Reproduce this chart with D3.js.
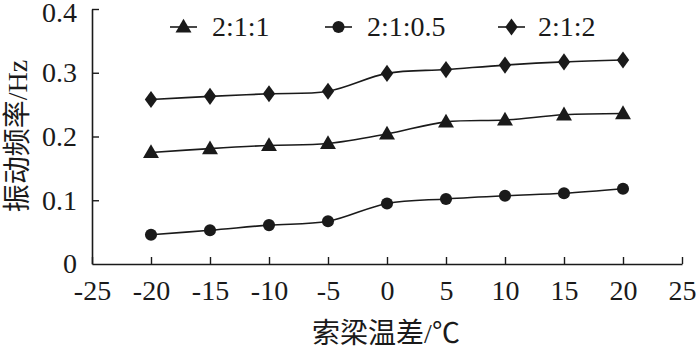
<!DOCTYPE html>
<html>
<head>
<meta charset="utf-8">
<script src="https://cdn.jsdelivr.net/npm/d3@7"></script>
<style>
  html, body { margin: 0; padding: 0; background: #fff; }
  svg { display: block; }
</style>
</head>
<body>
<svg id="chart" width="700" height="350"></svg>
<script>
// ---- data ----
const temps = [-20, -15, -10, -5, 0, 5, 10, 15, 20];
const series211 = [0.175, 0.181, 0.186, 0.189, 0.204, 0.223, 0.226, 0.234, 0.236];
const series2105 = [0.046, 0.053, 0.061, 0.067, 0.095, 0.102, 0.107, 0.111, 0.118];
const series212 = [0.258, 0.263, 0.267, 0.271, 0.299, 0.305, 0.312, 0.317, 0.320];
const seriesNames = ["2:1:1", "2:1:0.5", "2:1:2"];
const xTicks = [-25, -20, -15, -10, -5, 0, 5, 10, 15, 20, 25];
const yTicks = [0, 0.1, 0.2, 0.3, 0.4];
const xTitle = "索梁温差/℃";
const yTitle = "振动频率/Hz";

const latin = "'Liberation Serif', 'Times New Roman', serif";
const cjk = "'Liberation Serif', 'Noto Sans CJK SC', serif";
const ink = "#1a1a1a";

const svg = d3.select("#chart");
const x = d3.scaleLinear().domain([-25, 25]).range([92, 682]);
const y = d3.scaleLinear().domain([0, 0.4]).range([264, 9]);

// axes
const xAxis = d3.axisBottom(x).tickValues(xTicks).tickSizeInner(-7).tickSizeOuter(0).tickPadding(16)
  .tickFormat(d => String(d));
const gx = svg.append("g").attr("transform", `translate(0,${y(0)})`).call(xAxis);
const yAxis = d3.axisLeft(y).tickValues(yTicks).tickSizeInner(-7).tickSizeOuter(0).tickPadding(15)
  .tickFormat(d => d === 0 ? "0" : d3.format(".1f")(d));
const gy = svg.append("g").attr("transform", `translate(${x(-25)},0)`).call(yAxis);

[gx, gy].forEach(g => {
  g.select(".domain").attr("stroke", ink).attr("stroke-width", 1.6);
  g.selectAll(".tick line").attr("stroke", ink).attr("stroke-width", 1.4);
  g.selectAll(".tick text").attr("fill", ink).style("font-family", latin).style("font-size", "28px");
});
gx.selectAll(".tick text").attr("dy", "0.71em").attr("y", 16);
gy.selectAll(".tick text").attr("x", -15);
gy.selectAll(".tick").filter(d => d === 0.4).select("text").attr("dy", "0.38em").attr("y", 2);
gy.selectAll(".tick").filter(d => d === 0).select("line").remove();

// axis titles
svg.append("text").attr("x", 386).attr("y", 343).attr("text-anchor", "middle")
  .style("font-family", cjk).style("font-size", "28px").attr("fill", ink).text(xTitle);
svg.append("text").attr("transform", "translate(27,136) rotate(-90)").attr("text-anchor", "middle")
  .style("font-family", cjk).style("font-size", "28px").attr("fill", ink).text(yTitle);

// markers
const tri = d3.symbol().type(d3.symbolTriangle).size(110);
const circ = d3.symbol().type(d3.symbolCircle).size(115);
const diam = d3.symbol().type(d3.symbolDiamond).size(85);
function drawMarker(g, kind, cx, cy) {
  const sym = kind === 0 ? tri : kind === 1 ? circ : diam;
  return g.append("path").attr("d", sym()).attr("fill", ink)
    .attr("transform", `translate(${cx},${cy + (kind === 0 ? 1 : 0)})` + (kind === 2 ? " scale(1.25,1)" : ""));
}

const allSeries = [series211, series2105, series212];
const line = d3.line().x((d, i) => x(temps[i])).y(d => y(d)).curve(d3.curveCatmullRom.alpha(0.5));

allSeries.forEach((vals, k) => {
  const g = svg.append("g");
  g.append("path").attr("d", line(vals)).attr("fill", "none").attr("stroke", ink).attr("stroke-width", 1.6);
  vals.forEach((v, i) => drawMarker(g, k, x(temps[i]), y(v)));
});

// legend
const legendItems = [
  { lx: 170, tx: 212 },
  { lx: 325, tx: 367 },
  { lx: 498, tx: 538 }
];
legendItems.forEach((it, k) => {
  const g = svg.append("g");
  g.append("line").attr("x1", it.lx).attr("x2", it.lx + 27).attr("y1", 27).attr("y2", 27)
    .attr("stroke", ink).attr("stroke-width", 1.6);
  drawMarker(g, k, it.lx + 13.5, 27);
  g.append("text").attr("x", it.tx).attr("y", 36).style("font-family", latin).style("font-size", "28px")
    .attr("fill", ink).text(seriesNames[k]);
});
</script>
</body>
</html>
